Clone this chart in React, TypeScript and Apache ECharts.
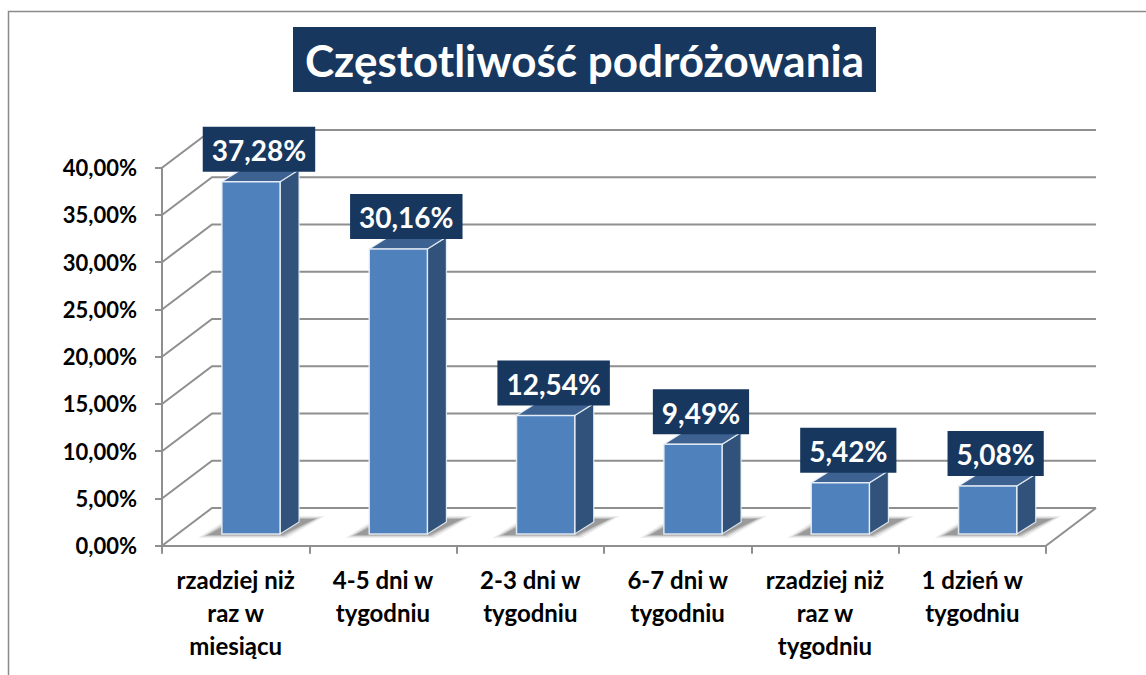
import React, { useEffect, useRef } from "react";
import * as echarts from "echarts";

const title = "Częstotliwość podróżowania";
const categories = [
  "rzadziej niż raz w miesiącu",
  "4-5 dni w tygodniu",
  "2-3 dni w tygodniu",
  "6-7 dni w tygodniu",
  "rzadziej niż raz w tygodniu",
  "1 dzień w tygodniu",
];
const values = [37.28, 30.16, 12.54, 9.49, 5.42, 5.08];
const yTicks = [0, 5, 10, 15, 20, 25, 30, 35, 40];

const FONT = "Lato, 'Noto Sans', sans-serif";
const GRID_COLOR = "#8f8f8f";
const NAVY = "#17375E";
const WALL_DX = 50;
const WALL_DY = -37.7;
const BAR_DX = 15.3;
const BAR_DY = -11.7;
const SIDE_DX = 19;
const SIDE_DY = -12;

const fmt = (v: number) => v.toFixed(2).replace(".", ",") + "%";

const wrap = (s: string, max = 12) => {
  const words = s.split(" ");
  const lines: string[] = [];
  let cur = "";
  for (const w of words) {
    if (!cur) cur = w;
    else if ((cur + " " + w).length <= max) cur = cur + " " + w;
    else {
      lines.push(cur);
      cur = w;
    }
  }
  if (cur) lines.push(cur);
  return lines.join("\n");
};

export default function App() {
  const ref = useRef<HTMLDivElement>(null);
  useEffect(() => {
    if (!ref.current) return;
    const chart = echarts.init(ref.current, null, { renderer: "svg" });
    const shadowLayers = [
      { grow: 10, alpha: 0.07 },
      { grow: 6, alpha: 0.1 },
      { grow: 3, alpha: 0.13 },
      { grow: 0, alpha: 0.16 },
    ];
    const option: any = {
      animation: false,
      backgroundColor: "#ffffff",
      graphic: [
        {
          type: "rect",
          shape: { x: 8.5, y: 11.5, width: 1160, height: 700 },
          style: { fill: "none", stroke: "#8a8a8a", lineWidth: 1.5 },
          z: 0,
        },
        {
          type: "rect",
          shape: { x: 293, y: 27, width: 583, height: 65 },
          style: { fill: NAVY },
          z: 10,
        },
        {
          type: "text",
          x: 584.5,
          y: 60,
          style: {
            text: title,
            fill: "#ffffff",
            font: `bold 44px ${FONT}`,
            align: "center",
            verticalAlign: "middle",
          },
          z: 11,
        },
      ],
      grid: { left: 162, right: 100, top: 167.7, bottom: 129.3, containLabel: false },
      xAxis: {
        type: "category",
        data: categories,
        axisLine: { show: true, lineStyle: { color: GRID_COLOR, width: 2 } },
        axisTick: { show: true, length: 8, lineStyle: { color: GRID_COLOR, width: 2 } },
        axisLabel: {
          interval: 0,
          margin: 17,
          color: "#000",
          fontFamily: FONT,
          fontWeight: "bold",
          fontSize: 24,
          lineHeight: 33,
          formatter: (v: string) => wrap(v),
        },
        splitLine: { show: false },
      },
      yAxis: {
        type: "value",
        min: 0,
        max: 40,
        interval: 5,
        axisLine: { show: true, lineStyle: { color: GRID_COLOR, width: 2 } },
        axisTick: { show: true, length: 7, lineStyle: { color: GRID_COLOR, width: 2 } },
        axisLabel: {
          margin: 25,
          color: "#000",
          fontFamily: FONT,
          fontWeight: "bold",
          fontSize: 22,
          formatter: (v: number) => fmt(v),
        },
        splitLine: { show: false },
      },
      series: [
        {
          type: "custom",
          name: "walls",
          clip: false,
          z: 1,
          silent: true,
          data: [[0, 0]],
          renderItem: (params: any, api: any) => {
            const cs = params.coordSys;
            const x0 = cs.x;
            const x1 = cs.x + cs.width;
            const children: any[] = yTicks.map((t) => {
              const y = api.coord([0, t])[1];
              return {
                type: "polyline",
                shape: {
                  points: [
                    [x0, y],
                    [x0 + WALL_DX, y + WALL_DY],
                    [x1 + WALL_DX, y + WALL_DY],
                  ],
                },
                style: { stroke: GRID_COLOR, lineWidth: 2, fill: null },
              };
            });
            const yb = api.coord([0, 0])[1];
            children.push({
              type: "line",
              shape: { x1: x1, y1: yb, x2: x1 + WALL_DX, y2: yb + WALL_DY },
              style: { stroke: GRID_COLOR, lineWidth: 2 },
            });
            return { type: "group", children };
          },
        },
        {
          type: "custom",
          name: "bars",
          clip: false,
          z: 2,
          data: values.map((v, i) => [i, v]),
          encode: { x: 0, y: 1 },
          renderItem: (params: any, api: any) => {
            const idx = api.value(0);
            const v = api.value(1);
            const top = api.coord([idx, v]);
            const base = api.coord([idx, 0]);
            const band = api.size([1, 0])[0];
            const w = band * 0.395;
            const cx = base[0] + BAR_DX;
            const L = cx - w / 2;
            const R = cx + w / 2;
            const B = base[1] + BAR_DY;
            const T = top[1] + BAR_DY;
            const edge = "rgba(235,241,248,0.9)";
            const shadows = shadowLayers.map((s) => ({
              type: "polygon",
              shape: {
                points: [
                  [L - 14 - s.grow, B + 1 + s.grow * 0.3],
                  [R + 2 + s.grow * 0.5, B + 1 + s.grow * 0.3],
                  [R + SIDE_DX + 16 + s.grow, B + SIDE_DY - 3 - s.grow * 0.3],
                  [L + SIDE_DX - 4 - s.grow * 0.5, B + SIDE_DY - 3 - s.grow * 0.3],
                ],
              },
              style: { fill: `rgba(0,0,0,${s.alpha})` },
            }));
            return {
              type: "group",
              children: [
                ...shadows,
                {
                  type: "polygon",
                  shape: {
                    points: [
                      [R, T],
                      [R + SIDE_DX, T + SIDE_DY],
                      [R + SIDE_DX, B + SIDE_DY],
                      [R, B],
                    ],
                  },
                  style: { fill: "#31527B", stroke: edge, lineWidth: 1.2 },
                },
                {
                  type: "polygon",
                  shape: {
                    points: [
                      [L, T],
                      [L + SIDE_DX, T + SIDE_DY],
                      [R + SIDE_DX, T + SIDE_DY],
                      [R, T],
                    ],
                  },
                  style: { fill: "#3D6291", stroke: edge, lineWidth: 1.2 },
                },
                {
                  type: "rect",
                  shape: { x: L, y: T, width: w, height: B - T },
                  style: { fill: "#4F81BD", stroke: edge, lineWidth: 1.5 },
                },
                {
                  type: "text",
                  x: cx + 8,
                  y: T - 10,
                  style: {
                    text: fmt(v),
                    fill: "#ffffff",
                    font: `bold 28px ${FONT}`,
                    align: "center",
                    verticalAlign: "bottom",
                    lineHeight: 31,
                    backgroundColor: NAVY,
                    padding: [8, 9, 6, 9],
                  },
                },
              ],
            };
          },
        },
      ],
    };
    chart.setOption(option);
    return () => chart.dispose();
  }, []);
  return (
    <div
      ref={ref}
      style={{ position: "fixed", left: 0, top: 0, width: 1146, height: 675 }}
    />
  );
}
